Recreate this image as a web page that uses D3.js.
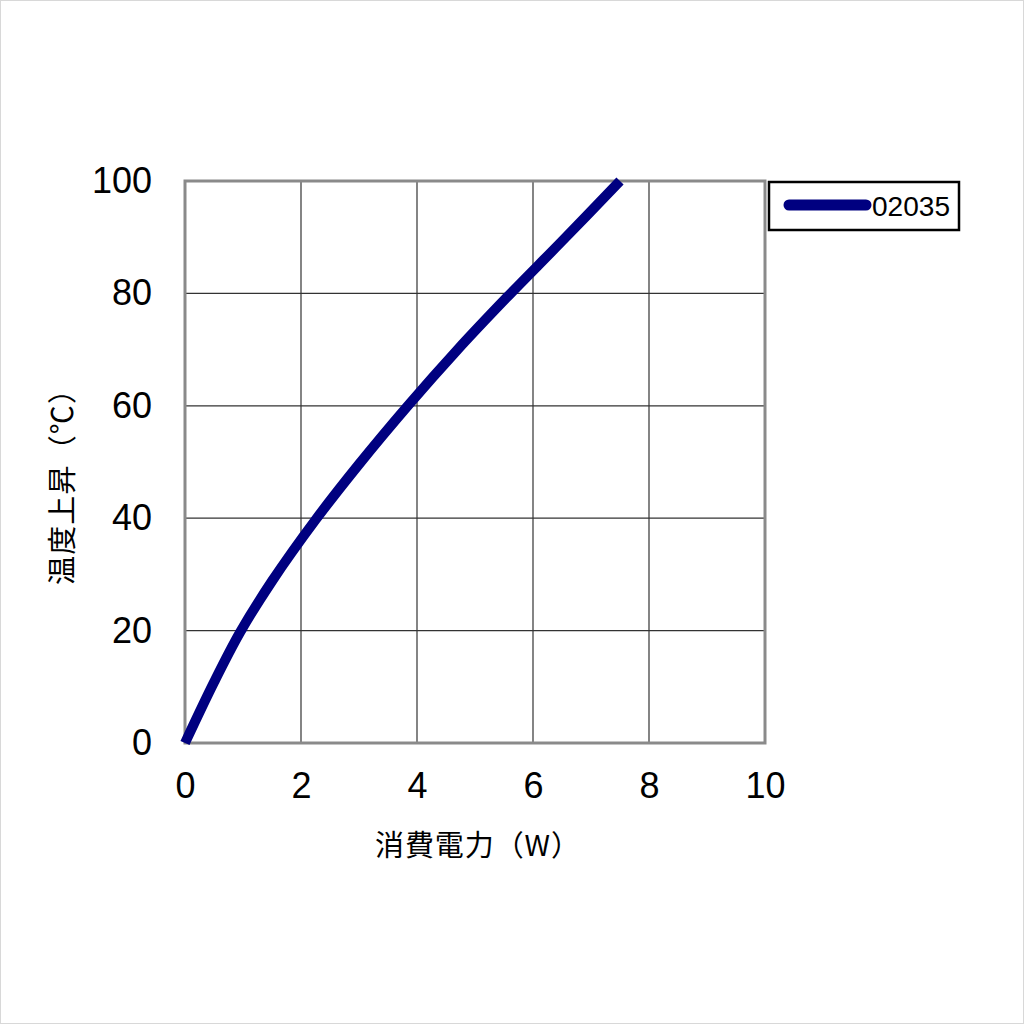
<!DOCTYPE html>
<html>
<head>
<meta charset="utf-8">
<script src="https://cdn.jsdelivr.net/npm/d3@7"></script>
<style>
  body { margin: 0; background: #fff; }
  svg { display: block; }
</style>
</head>
<body>
<svg id="chart"></svg>
<script>
// values
const powerW = [0, 0.5, 0.95, 1.5, 2.25, 3.0, 3.85, 4.7, 5.55, 6.5, 7.5];
const tempRise = [0, 10.8, 19.7, 28.8, 39.7, 49.6, 60.1, 70, 79.3, 89.3, 100];
const xTicks = [0, 2, 4, 6, 8, 10];
const yTicks = [0, 20, 40, 60, 80, 100];
const seriesName = "02035";

const width = 1024;
const height = 1024;
const marginLeft = 185;
const marginRight = 259;
const marginTop = 181;
const marginBottom = 281;

const data = powerW.map((p, i) => ({ p, t: tempRise[i] }));

const x = d3.scaleLinear()
    .domain([0, 10])
    .range([marginLeft, width - marginRight]);

const y = d3.scaleLinear()
    .domain([0, 100])
    .range([height - marginBottom, marginTop]);

const svg = d3.select("#chart")
    .attr("width", width)
    .attr("height", height);

// faint page border
svg.append("rect")
    .attr("x", 0.5).attr("y", 0.5)
    .attr("width", width - 1).attr("height", height - 1)
    .attr("fill", "none")
    .attr("stroke", "#d8d8d8");

// grid
svg.append("g")
    .selectAll("line")
    .data(xTicks.slice(1, -1))
    .join("line")
    .attr("x1", d => x(d)).attr("x2", d => x(d))
    .attr("y1", y(100)).attr("y2", y(0))
    .attr("stroke", "#333")
    .attr("stroke-width", 1.2);

svg.append("g")
    .selectAll("line")
    .data(yTicks.slice(1, -1))
    .join("line")
    .attr("x1", x(0)).attr("x2", x(10))
    .attr("y1", d => y(d)).attr("y2", d => y(d))
    .attr("stroke", "#333")
    .attr("stroke-width", 1.2);

// frame
svg.append("rect")
    .attr("x", x(0)).attr("y", y(100))
    .attr("width", x(10) - x(0))
    .attr("height", y(0) - y(100))
    .attr("fill", "none")
    .attr("stroke", "#8a8a8a")
    .attr("stroke-width", 3);

// axes (labels only)
const xAxis = svg.append("g")
    .attr("transform", `translate(0,${y(0)})`)
    .call(d3.axisBottom(x).tickValues(xTicks).tickSize(0).tickPadding(29))
    .call(g => g.select(".domain").remove());
xAxis.selectAll("text")
    .attr("font-family", "'Liberation Sans', Arial, sans-serif")
    .attr("font-size", 36)
    .attr("fill", "#000");

const yAxis = svg.append("g")
    .attr("transform", `translate(${x(0)},0)`)
    .call(d3.axisLeft(y).tickValues(yTicks).tickSize(0).tickPadding(33))
    .call(g => g.select(".domain").remove());
yAxis.selectAll("text")
    .attr("font-family", "'Liberation Sans', Arial, sans-serif")
    .attr("font-size", 36)
    .attr("fill", "#000");

// axis titles
svg.append("text")
    .attr("x", 375).attr("y", 856)
    .attr("text-anchor", "start")
    .attr("font-family", "'Noto Sans CJK JP', sans-serif")
    .attr("font-size", 29)
    .attr("textLength", 205)
    .attr("lengthAdjust", "spacing")
    .text("消費電力（W）");

svg.append("text")
    .attr("transform", "translate(73,585) rotate(-90)")
    .attr("text-anchor", "start")
    .attr("font-family", "'Noto Sans CJK JP', sans-serif")
    .attr("font-size", 29)
    .attr("textLength", 210)
    .attr("lengthAdjust", "spacing")
    .text("温度上昇（℃）");

// curve
const line = d3.line()
    .x(d => x(d.p))
    .y(d => y(d.t))
    .curve(d3.curveCatmullRom.alpha(0.5));

svg.append("path")
    .datum(data)
    .attr("fill", "none")
    .attr("stroke", "#000080")
    .attr("stroke-width", 10)
    .attr("d", line);

// legend
const legend = svg.append("g");
legend.append("rect")
    .attr("x", 769).attr("y", 182)
    .attr("width", 190).attr("height", 48)
    .attr("fill", "#fff")
    .attr("stroke", "#000")
    .attr("stroke-width", 2.5);
legend.append("line")
    .attr("x1", 789).attr("x2", 866)
    .attr("y1", 205).attr("y2", 205)
    .attr("stroke", "#000080")
    .attr("stroke-width", 11)
    .attr("stroke-linecap", "round");
legend.append("text")
    .attr("x", 872).attr("y", 216)
    .attr("font-family", "'Liberation Sans', Arial, sans-serif")
    .attr("font-size", 27)
    .attr("textLength", 78)
    .attr("lengthAdjust", "spacingAndGlyphs")
    .text(seriesName);
</script>
</body>
</html>
